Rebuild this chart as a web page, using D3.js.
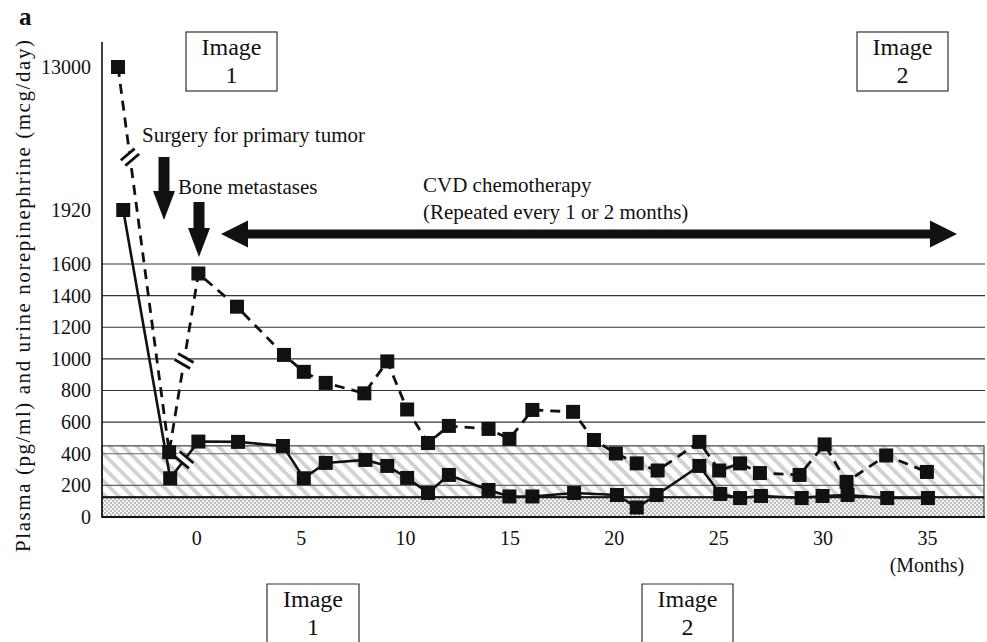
<!DOCTYPE html>
<html>
<head>
<meta charset="utf-8">
<script src="https://cdn.jsdelivr.net/npm/d3@7"></script>
<style>
  body { margin: 0; background: #fff; }
  svg { display: block; }
  text { font-family: "Liberation Serif", "Times New Roman", serif; fill: #111; }
</style>
</head>
<body>
<div id="chart"></div>
<script>
// Plasma norepinephrine (pg/ml) - dashed line
const plasmaMonths = [-3.75, -1.3, 0.1, 1.95, 4.2, 5.15, 6.2, 8.05, 9.15, 10.1, 11.1, 12.1, 14.0, 15.0, 16.1, 18.05, 19.05, 20.1, 21.1, 22.1, 24.1, 25.05, 26.05, 27.0, 28.9, 30.1, 31.15, 33.05, 35.0];
const plasmaValues = [13000, 410, 1540, 1330, 1025, 918, 848, 782, 984, 680, 468, 576, 557, 494, 677, 665, 487, 402, 339, 294, 475, 294, 339, 278, 266, 459, 222, 389, 285];

// Urine norepinephrine (mcg/day) - solid line
const urineMonths = [-3.5, -1.25, 0.1, 2.0, 4.15, 5.15, 6.2, 8.1, 9.15, 10.1, 11.1, 12.1, 14.0, 15.0, 16.1, 18.1, 20.15, 21.1, 22.05, 24.1, 25.1, 26.05, 27.05, 29.0, 30.0, 31.2, 33.1, 35.05];
const urineValues = [1920, 245, 477, 475, 449, 245, 342, 361, 323, 247, 152, 266, 171, 130, 130, 152, 139, 60, 139, 323, 146, 120, 133, 120, 133, 139, 120, 120];

// normal ranges (upper limits)
const plasmaNormalMax = 450;
const urineNormalMax = 125;

const yTicks = [0, 200, 400, 600, 800, 1000, 1200, 1400, 1600, 1920, 13000];
const yGrid = [200, 400, 600, 800, 1000, 1200, 1400, 1600];
const xTicks = [0, 5, 10, 15, 20, 25, 30, 35];

// axis breaks drawn on segments: series, segment start index, position along segment, mark angle
const breaks = [
  { series: "plasma", i: 0, t: 0.234, angle: -40 },
  { series: "plasma", i: 1, t: 0.51, angle: 30 },
  { series: "urine", i: 1, t: 0.5, angle: 40 }
];

const W = 987, H = 642;
const left = 102, right = 985, bottom = 517, axisTop = 42;

const svg = d3.select("#chart").append("svg")
  .attr("width", W).attr("height", H);

const x = d3.scaleLinear().domain([0, 35]).range([196.3, 926.9]);
// broken axis: linear up to 1920, then compressed up to 13000
const y = d3.scaleLinear().domain([0, 1600, 1920, 13000]).range([bottom, 264, 210, 67]);

// Patterns for normal ranges
const defs = svg.append("defs");
const hatch = defs.append("pattern")
  .attr("id", "hatch").attr("patternUnits", "userSpaceOnUse")
  .attr("width", 9.6).attr("height", 9.6)
  .attr("patternTransform", "rotate(-45)");
hatch.append("rect").attr("width", 9.6).attr("height", 9.6).attr("fill", "#fff");
hatch.append("rect").attr("width", 3.8).attr("height", 9.6).attr("fill", "#d2d2d2");

const dots = defs.append("pattern")
  .attr("id", "dots").attr("patternUnits", "userSpaceOnUse")
  .attr("width", 4).attr("height", 4);
dots.append("rect").attr("width", 4).attr("height", 4).attr("fill", "#f4f4f4");
dots.append("rect").attr("width", 2).attr("height", 2).attr("fill", "#bdbdbd");
dots.append("rect").attr("x", 2).attr("y", 2).attr("width", 2).attr("height", 2).attr("fill", "#bdbdbd");

// Bands
svg.append("rect")
  .attr("x", left).attr("y", y(plasmaNormalMax))
  .attr("width", right - 1 - left).attr("height", y(urineNormalMax) - y(plasmaNormalMax))
  .attr("fill", "url(#hatch)").attr("stroke", "#444").attr("stroke-width", 1.2);
svg.append("rect")
  .attr("x", left).attr("y", y(urineNormalMax))
  .attr("width", right - 1 - left).attr("height", y(0) - y(urineNormalMax))
  .attr("fill", "url(#dots)").attr("stroke", "#444").attr("stroke-width", 1.2);
svg.append("line")
  .attr("x1", left).attr("x2", right - 1)
  .attr("y1", y(urineNormalMax)).attr("y2", y(urineNormalMax))
  .attr("stroke", "#111").attr("stroke-width", 2.2);

// Grid lines
svg.append("g")
  .selectAll("line")
  .data(yGrid)
  .enter()
  .append("line")
  .attr("x1", left).attr("x2", right)
  .attr("y1", (d) => y(d)).attr("y2", (d) => y(d))
  .attr("stroke", (d) => (d < plasmaNormalMax ? "#666" : "#333"))
  .attr("stroke-width", 1.1);

// Axes
const yAxis = svg.append("g")
  .attr("transform", `translate(${left},0)`)
  .call(d3.axisLeft(y).tickValues(yTicks).tickSize(0).tickPadding(11).tickFormat(d3.format("d")));
yAxis.select(".domain").remove();
yAxis.selectAll("text")
  .style("font-size", "20px")
  .style("font-family", "'Liberation Serif', 'Times New Roman', serif");

const xAxis = svg.append("g")
  .attr("transform", `translate(0,${bottom})`)
  .call(d3.axisBottom(x).tickValues(xTicks).tickSize(0).tickPadding(14));
xAxis.select(".domain").remove();
xAxis.selectAll("text")
  .style("font-size", "20px")
  .style("font-family", "'Liberation Serif', 'Times New Roman', serif");

svg.append("line")
  .attr("x1", left).attr("x2", left).attr("y1", axisTop).attr("y2", bottom + 1)
  .attr("stroke", "#111").attr("stroke-width", 1.6);
svg.append("line")
  .attr("x1", left).attr("x2", right).attr("y1", bottom).attr("y2", bottom)
  .attr("stroke", "#111").attr("stroke-width", 2);

svg.append("text")
  .attr("x", x(35)).attr("y", 572)
  .attr("text-anchor", "middle")
  .style("font-size", "20px")
  .text("(Months)");

// Axis title
svg.append("text")
  .attr("transform", "translate(23,296) rotate(-90)")
  .attr("text-anchor", "middle")
  .attr("dy", "0.35em")
  .attr("textLength", 512)
  .attr("lengthAdjust", "spacing")
  .style("font-size", "21px")
  .text("Plasma (pg/ml) and urine norepinephrine (mcg/day)");

svg.append("text")
  .attr("x", 19).attr("y", 25)
  .style("font-size", "25px").style("font-weight", "bold")
  .text("a");

// Lines
const plasma = plasmaMonths.map((m, i) => [m, plasmaValues[i]]);
const urine = urineMonths.map((m, i) => [m, urineValues[i]]);
const line = d3.line().x((d) => x(d[0])).y((d) => y(d[1]));

svg.append("path")
  .datum(plasma)
  .attr("d", line)
  .attr("fill", "none").attr("stroke", "#111")
  .attr("stroke-width", 2.8).attr("stroke-dasharray", "10,7");
svg.append("path")
  .datum(urine)
  .attr("d", line)
  .attr("fill", "none").attr("stroke", "#111")
  .attr("stroke-width", 2.6);

// Break marks
const seriesData = { plasma: plasma, urine: urine };
breaks.forEach((b) => {
  const s = seriesData[b.series];
  const p0 = [x(s[b.i][0]), y(s[b.i][1])];
  const p1 = [x(s[b.i + 1][0]), y(s[b.i + 1][1])];
  const px = p0[0] + (p1[0] - p0[0]) * b.t;
  const py = p0[1] + (p1[1] - p0[1]) * b.t;
  const g = svg.append("g").attr("transform", `translate(${px},${py}) rotate(${b.angle})`);
  g.append("rect").attr("x", -9).attr("y", -3).attr("width", 18).attr("height", 6).attr("fill", "#fff");
  g.append("line").attr("x1", -9).attr("x2", 9).attr("y1", -3.5).attr("y2", -3.5)
    .attr("stroke", "#111").attr("stroke-width", 2.8);
  g.append("line").attr("x1", -9).attr("x2", 9).attr("y1", 3.5).attr("y2", 3.5)
    .attr("stroke", "#111").attr("stroke-width", 2.8);
});

// Markers
[plasma, urine].forEach((s) => {
  svg.append("g")
    .selectAll("rect")
    .data(s)
    .enter()
    .append("rect")
    .attr("x", (d) => x(d[0]) - 7)
    .attr("y", (d) => y(d[1]) - 7)
    .attr("width", 14).attr("height", 14)
    .attr("fill", "#111");
});

// Annotations
const ann = svg.append("g");
ann.append("text").attr("x", 142).attr("y", 142).style("font-size", "21px").text("Surgery for primary tumor");
ann.append("text").attr("x", 178).attr("y", 194).style("font-size", "21px").text("Bone metastases");
ann.append("text").attr("x", 423).attr("y", 192).style("font-size", "21px").text("CVD chemotherapy");
ann.append("text").attr("x", 423).attr("y", 219).style("font-size", "21px").text("(Repeated every 1 or 2 months)");

const downArrow = (cx, top, tip) => {
  const sw = 5.5, hw = 11, hl = 29;
  return `M${cx - sw},${top} H${cx + sw} V${tip - hl} H${cx + hw} L${cx},${tip} L${cx - hw},${tip - hl} H${cx - sw} Z`;
};
ann.append("path").attr("d", downArrow(164, 157, 220)).attr("fill", "#111");
ann.append("path").attr("d", downArrow(199, 202, 257)).attr("fill", "#111");

const x1 = 221, x2 = 957, ay = 234, sh = 4.5, hh = 13.5, hl = 27;
ann.append("path")
  .attr("d", `M${x1},${ay} L${x1 + hl},${ay - hh} V${ay - sh} H${x2 - hl} V${ay - hh} L${x2},${ay} L${x2 - hl},${ay + hh} V${ay + sh} H${x1 + hl} V${ay + hh} Z`)
  .attr("fill", "#111");

// Image boxes
const box = (x0, x1b, y0, y1, label) => {
  const g = svg.append("g");
  if (y1 < H) {
    g.append("rect").attr("x", x0).attr("y", y0).attr("width", x1b - x0).attr("height", y1 - y0)
      .attr("fill", "#fff").attr("stroke", "#333").attr("stroke-width", 1.2);
  } else {
    g.append("path").attr("d", `M${x0},${y1} V${y0} H${x1b} V${y1}`)
      .attr("fill", "none").attr("stroke", "#333").attr("stroke-width", 1.2);
  }
  const cx = (x0 + x1b) / 2;
  g.append("text").attr("x", cx).attr("y", y0 + 23).attr("text-anchor", "middle")
    .style("font-size", "24px").text("Image");
  g.append("text").attr("x", cx).attr("y", y0 + 51).attr("text-anchor", "middle")
    .style("font-size", "24px").text(label);
};
box(186, 277, 32, 91, "1");
box(857, 948, 32, 91, "2");
box(267, 359, 584, 660, "1");
box(642, 733, 584, 660, "2");
</script>
</body>
</html>
